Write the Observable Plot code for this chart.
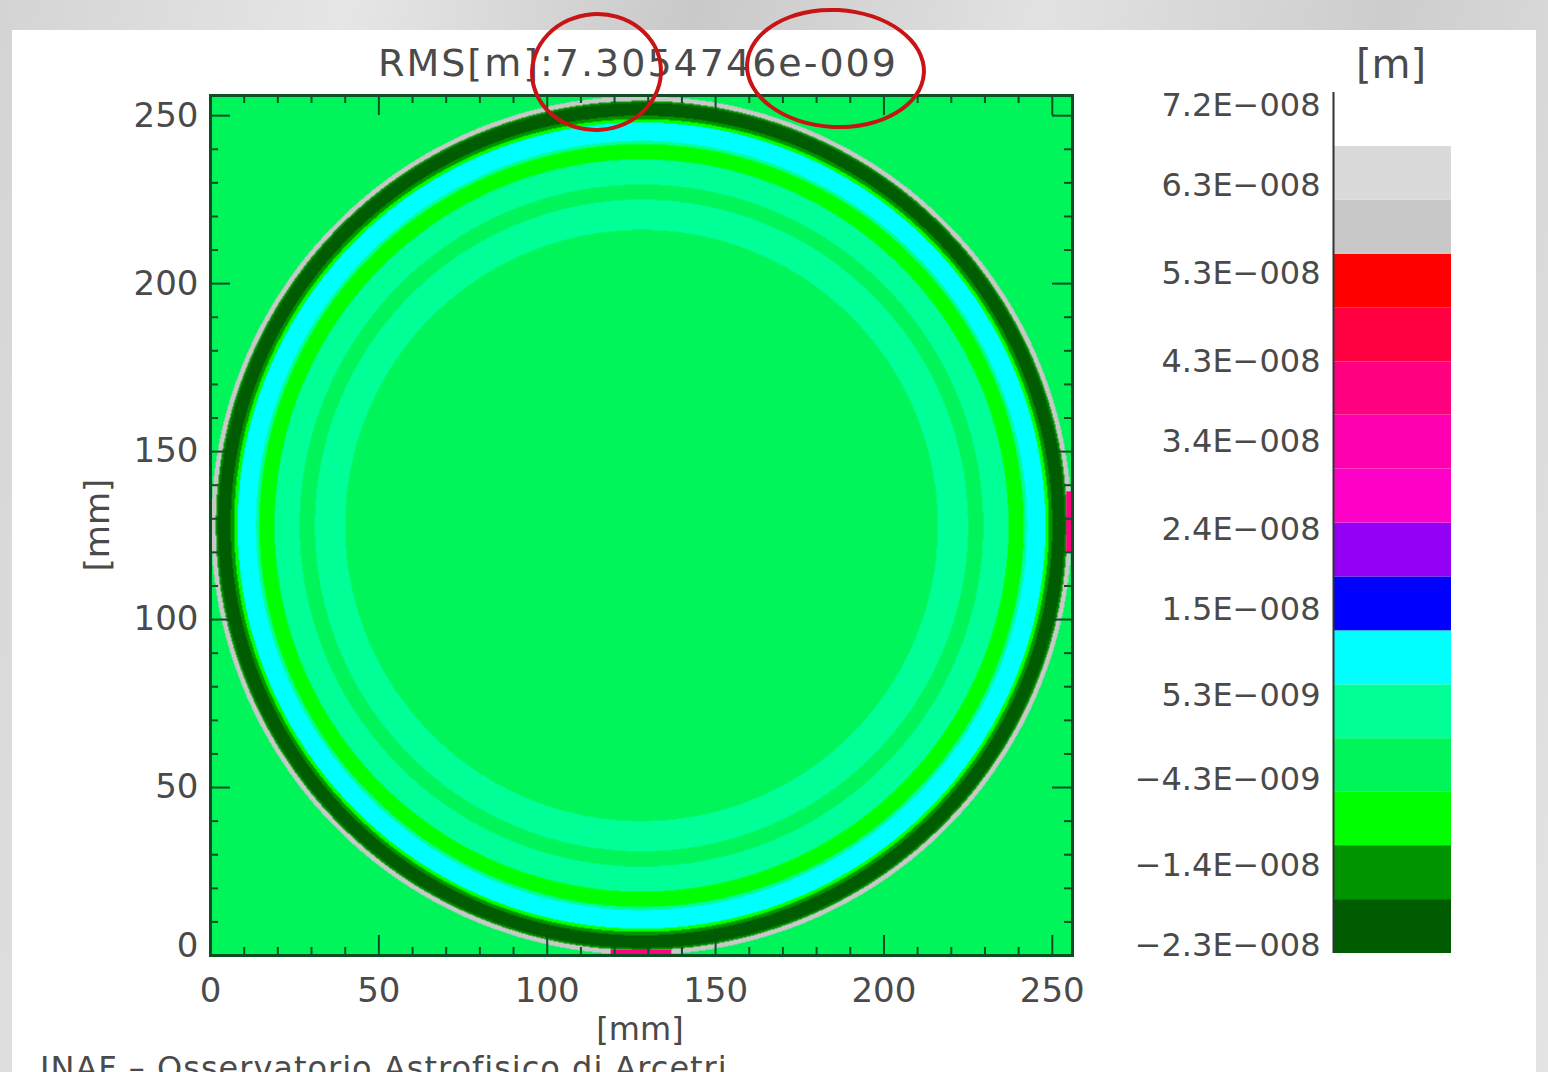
<!DOCTYPE html>
<html>
<head>
<meta charset="utf-8">
<script src="https://cdn.jsdelivr.net/npm/d3@7"></script>
<script src="https://cdn.jsdelivr.net/npm/@observablehq/plot@0.6"></script>
<style>
  html, body { margin: 0; padding: 0; }
  body {
    width: 1548px; height: 1072px; overflow: hidden; position: relative;
    background: linear-gradient(100deg, #d4d4d4 0%, #e6e6e6 20%, #c9c9c9 40%, #e2e2e2 60%, #cdcdcd 80%, #e4e4e4 100%);
    font-family: "DejaVu Sans", sans-serif; color: #4a4a4a;
  }
  #panel { position: absolute; left: 12px; top: 30px; width: 1524px; height: 1042px; background: #fff; }
  .abs { position: absolute; white-space: nowrap; line-height: 1; }
  #main { position: absolute; left: 0; top: 0; }
  #cbar { position: absolute; left: 1100px; top: 0; }
  .ring { position: absolute; border: 4px solid #c81414; border-radius: 50%; box-sizing: border-box; }
</style>
</head>
<body>
<div id="panel"></div>
<div id="main"></div>
<div id="cbar"></div>
<div class="abs" id="title" style="left:638px; top:63px; transform:translate(-50%,-50%); font-size:38px; letter-spacing:2px;">RMS[m]:7.3054746e-009</div>
<div class="abs" style="left:1391px; top:64px; transform:translate(-50%,-50%); font-size:40px;">[m]</div>
<div class="abs" style="left:640px; top:1029px; transform:translate(-50%,-50%); font-size:32px;">[mm]</div>
<div class="abs" style="left:97px; top:525px; transform:translate(-50%,-50%) rotate(-90deg); font-size:34px;">[mm]</div>
<div class="abs" style="left:40px; top:1052px; font-size:32px; letter-spacing:1px;">INAF – Osservatorio Astrofisico di Arcetri</div>
<div class="ring" style="left:530px; top:12px; width:133px; height:120px; transform:rotate(-4deg);"></div>
<div class="ring" style="left:745px; top:8px; width:181px; height:121px; transform:rotate(3deg);"></div>
<script>
// ---------------- data ----------------
// colour bar: band colours from bottom to top
const bandColors = ["#005c00", "#009400", "#00ff00", "#00f55a", "#00ff96", "#00ffff",
                    "#0000ff", "#9400f5", "#ff00c8", "#ff00b0", "#ff0080", "#ff0040",
                    "#ff0000", "#c8c8c8", "#dadada", "#ffffff"];
// band boundaries [m] (bottom edge, 15 thresholds, top edge)
const barMin = -2.39e-8;
const thresholds = [-1.78e-8, -1.17e-8, -0.56e-8, 0.04e-8, 0.65e-8, 1.26e-8, 1.87e-8,
                    2.48e-8, 3.09e-8, 3.70e-8, 4.30e-8, 4.91e-8, 5.52e-8, 6.13e-8, 6.74e-8];
const barMax = 7.35e-8;
// colour bar tick values and labels
const cbTickValues = [7.2e-8, 6.3e-8, 5.3e-8, 4.3e-8, 3.4e-8, 2.4e-8, 1.5e-8, 5.3e-9, -4.3e-9, -1.4e-8, -2.3e-8];
const cbTickLabels = ["7.2E\u2212008", "6.3E\u2212008", "5.3E\u2212008", "4.3E\u2212008", "3.4E\u2212008",
                      "2.4E\u2212008", "1.5E\u2212008", "5.3E\u2212009", "\u22124.3E\u2212009",
                      "\u22121.4E\u2212008", "\u22122.3E\u2212008"];
// map axes
const xTicks = [0, 50, 100, 150, 200, 250];
const yTicks = [0, 50, 100, 150, 200, 250];
const minorTicks = [10, 20, 30, 40, 60, 70, 80, 90, 110, 120, 130, 140, 160, 170, 180, 190, 210, 220, 230, 240];
const mapSize = 256;            // mm
const mirrorCenter = [128, 128]; // mm
// radial profile of the surface error: outer radius of each ring [mm] and height [m]
const ringOuterRadius = [88, 97, 101.5, 109, 113.5, 114.5, 120, 121, 122, 125.8, 126.4, 127.8, Infinity];
const ringHeight      = [-2.6e-9, 3.5e-9, -2.6e-9, 3.5e-9, -8.7e-9, 3.5e-9, 9.6e-9, -8.7e-9,
                         -1.48e-8, -2.09e-8, -1.48e-8, 5.8e-8, -2.6e-9];
// edge artefacts on the map border [mm]
const edgePatches = [
  {x1: 119, x2: 137, y1: 0, y2: 1.6, value: 4.0e-8},
  {x1: 254.3, x2: 256, y1: 120, y2: 138, value: 4.0e-8}
];

// ---------------- drawing ----------------
const frameColor = "#0b4f22";
const W = 1100, H = 1010;
const fL = 210, fR = 1072, fT = 95, fB = 955;
const fW = fR - fL, fH = fB - fT;

function surfaceValue(x, y) {
  const r = Math.hypot(x - mirrorCenter[0], y - mirrorCenter[1]);
  for (let i = 0; i < ringOuterRadius.length; i++) if (r < ringOuterRadius[i]) return ringHeight[i];
  return ringHeight[ringHeight.length - 1];
}

const textStyle = {fontFamily: "DejaVu Sans", fontSize: "34px", color: "#4a4a4a", background: "transparent", overflow: "visible"};

const main = Plot.plot({
  width: W, height: H,
  marginLeft: fL, marginRight: W - fR, marginTop: fT, marginBottom: H - fB,
  x: {domain: [0, mapSize]},
  y: {domain: [0, mapSize]},
  color: {type: "threshold", domain: thresholds, range: bandColors},
  style: textStyle,
  marks: [
    Plot.raster({x1: 0, y1: 0, x2: mapSize, y2: mapSize, pixelSize: 1, fill: surfaceValue}),
    Plot.rect(edgePatches, {x1: "x1", x2: "x2", y1: "y1", y2: "y2", fill: "value"}),
    // inward ticks on all four sides
    Plot.tickX(minorTicks, {x: d => d, stroke: frameColor, strokeWidth: 2, insetTop: fH - 8}),
    Plot.tickX(minorTicks, {x: d => d, stroke: frameColor, strokeWidth: 2, insetBottom: fH - 8}),
    Plot.tickX(xTicks, {x: d => d, stroke: frameColor, strokeWidth: 2, insetTop: fH - 20}),
    Plot.tickX(xTicks, {x: d => d, stroke: frameColor, strokeWidth: 2, insetBottom: fH - 20}),
    Plot.tickY(minorTicks, {y: d => d, stroke: frameColor, strokeWidth: 2, insetRight: fW - 8}),
    Plot.tickY(minorTicks, {y: d => d, stroke: frameColor, strokeWidth: 2, insetLeft: fW - 8}),
    Plot.tickY(yTicks, {y: d => d, stroke: frameColor, strokeWidth: 2, insetRight: fW - 20}),
    Plot.tickY(yTicks, {y: d => d, stroke: frameColor, strokeWidth: 2, insetLeft: fW - 20}),
    Plot.frame({stroke: frameColor, strokeWidth: 3}),
    Plot.axisX(xTicks, {tickSize: 0, tickPadding: 22, label: null}),
    Plot.axisY(yTicks.filter(d => d > 0), {tickSize: 0, tickPadding: 12, label: null}),
    Plot.axisY(yTicks.filter(d => d === 0), {tickSize: 0, tickPadding: 12, label: null, dy: -9})
  ]
});
document.getElementById("main").appendChild(main);

// colour bar
const bandEdges = [barMin, ...thresholds, barMax];
const bandIndex = bandColors.map((c, i) => i);
const labelOf = new Map(cbTickValues.map((v, i) => [v, cbTickLabels[i]]));
const cbW = 448;
const cbar = Plot.plot({
  width: cbW, height: H,
  marginLeft: 233, marginRight: cbW - 233 - 118, marginTop: 92, marginBottom: H - 953,
  x: {domain: [0, 1], axis: null},
  y: {domain: [barMin, barMax]},
  style: {...textStyle, fontSize: "32px"},
  marks: [
    Plot.rect(bandIndex, {x1: 0, x2: 1, y1: i => bandEdges[i], y2: i => bandEdges[i + 1], fill: i => bandColors[i]}),
    Plot.ruleX([0], {stroke: "#333", strokeWidth: 2}),
    Plot.axisY(cbTickValues, {tickSize: 0, tickPadding: 13, tickFormat: d => labelOf.get(d), label: null})
  ]
});
document.getElementById("cbar").appendChild(cbar);
</script>
</body>
</html>
